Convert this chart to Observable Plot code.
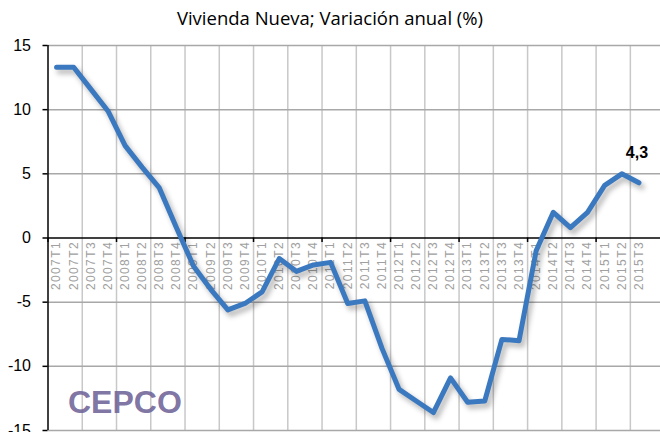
<!DOCTYPE html>
<html>
<head>
<meta charset="utf-8">
<script src="https://cdn.jsdelivr.net/npm/d3@7"></script>
<script src="https://cdn.jsdelivr.net/npm/@observablehq/plot@0.6"></script>
<style>
  html, body { margin: 0; padding: 0; background: #fff; }
  #title { height: 36px; line-height: 36px; text-align: center; font-family: "Open Sans", sans-serif; font-size: 18.5px; color: #000; width: 660px; }
  #chart svg { display: block; overflow: visible; }
</style>
</head>
<body>
<div id="title">Vivienda Nueva; Variación anual (%)</div>
<div id="chart"></div>
<script>
const categories = [
  "2007T1","2007T2","2007T3","2007T4",
  "2008T1","2008T2","2008T3","2008T4",
  "2009T1","2009T2","2009T3","2009T4",
  "2010T1","2010T2","2010T3","2010T4",
  "2011T1","2011T2","2011T3","2011T4",
  "2012T1","2012T2","2012T3","2012T4",
  "2013T1","2013T2","2013T3","2013T4",
  "2014T1","2014T2","2014T3","2014T4",
  "2015T1","2015T2","2015T3"
];
const values = [
  13.3, 13.3, 11.6, 9.9,
  7.2, 5.5, 3.9, 0.8,
  -2.2, -4.0, -5.6, -5.1,
  -4.2, -1.6, -2.6, -2.1,
  -1.9, -5.1, -4.9, -8.6,
  -11.8, -12.7, -13.6, -10.9,
  -12.8, -12.7, -7.9, -8.0,
  -1.0, 2.0, 0.8, 2.0,
  4.1, 5.0, 4.3
];
const yTicks = [-15, -10, -5, 0, 5, 10, 15];
const lastLabel = "4,3";
const logoText = "CEPCO";

const data = categories.map((c, i) => ({i, cat: c, v: values[i]}));
const gridBounds = d3.range(2, 36, 2).map(k => k - 0.5);
const majorBounds = d3.range(0, 35, 4).map(k => k - 0.5);
const last = data[data.length - 1];

const plot = Plot.plot({
  width: 660,
  height: 396,
  marginLeft: 47.5,
  marginRight: 0,
  marginTop: 9,
  marginBottom: 2,
  style: {fontFamily: "Liberation Sans, sans-serif", background: "#fff"},
  x: {type: "linear", domain: [-0.5, 35.26], axis: null},
  y: {domain: [-15, 15], axis: null},
  marks: [
    Plot.ruleX(gridBounds, {x: d => d, y1: -15, y2: 15, stroke: "#c8c8c8", strokeWidth: 1.5}),
    Plot.ruleY(yTicks.filter(d => d !== 0), {y: d => d, stroke: "#a8a8a8", strokeWidth: 1.5}),
    Plot.axisY(yTicks, {label: null, tickSize: 5, tickPadding: 12, fontSize: 16, stroke: "#000", strokeWidth: 1.5, fill: "#000", tickFormat: d => String(d)}),
    Plot.ruleX([-0.5], {y1: -15, y2: 15, stroke: "#000", strokeWidth: 1.5}),
    Plot.ruleY([0], {stroke: "#000", strokeWidth: 1.5}),
    Plot.ruleX(majorBounds, {x: d => d, y1: 0, y2: -0.35, stroke: "#000", strokeWidth: 1.5}),
    Plot.text(data, {x: "i", y: 0, text: "cat", rotate: -90, textAnchor: "end", lineAnchor: "middle", dy: 3, fontSize: 12, fill: "#a0a0a0"}),
    Plot.text([logoText], {frameAnchor: "bottom-left", text: d => d, dx: 20, dy: -18, fontSize: 32, fontWeight: "bold", fill: "#6f6499", fillOpacity: 0.9, textAnchor: "start", lineAnchor: "bottom"}),
    Plot.line(data, {x: "i", y: "v", stroke: "#000", strokeOpacity: 0.25, strokeWidth: 6, dx: 3, dy: 4, strokeLinejoin: "round", strokeLinecap: "round"}),
    Plot.line(data, {x: "i", y: "v", stroke: "#3a78bf", strokeWidth: 5, strokeLinejoin: "round", strokeLinecap: "round"}),
    Plot.text([last], {x: "i", y: "v", text: () => lastLabel, dy: -30, dx: -2, fontSize: 16, fontWeight: "bold", fill: "#000", lineAnchor: "middle"})
  ]
});
document.getElementById("chart").appendChild(plot);
const lines = plot.querySelectorAll('g[aria-label="line"]');
if (lines.length) lines[0].style.filter = "blur(2.5px)";
const texts = plot.querySelectorAll('g[aria-label="text"]');
if (texts.length) texts[0].style.letterSpacing = "1.4px";
</script>
</body>
</html>
